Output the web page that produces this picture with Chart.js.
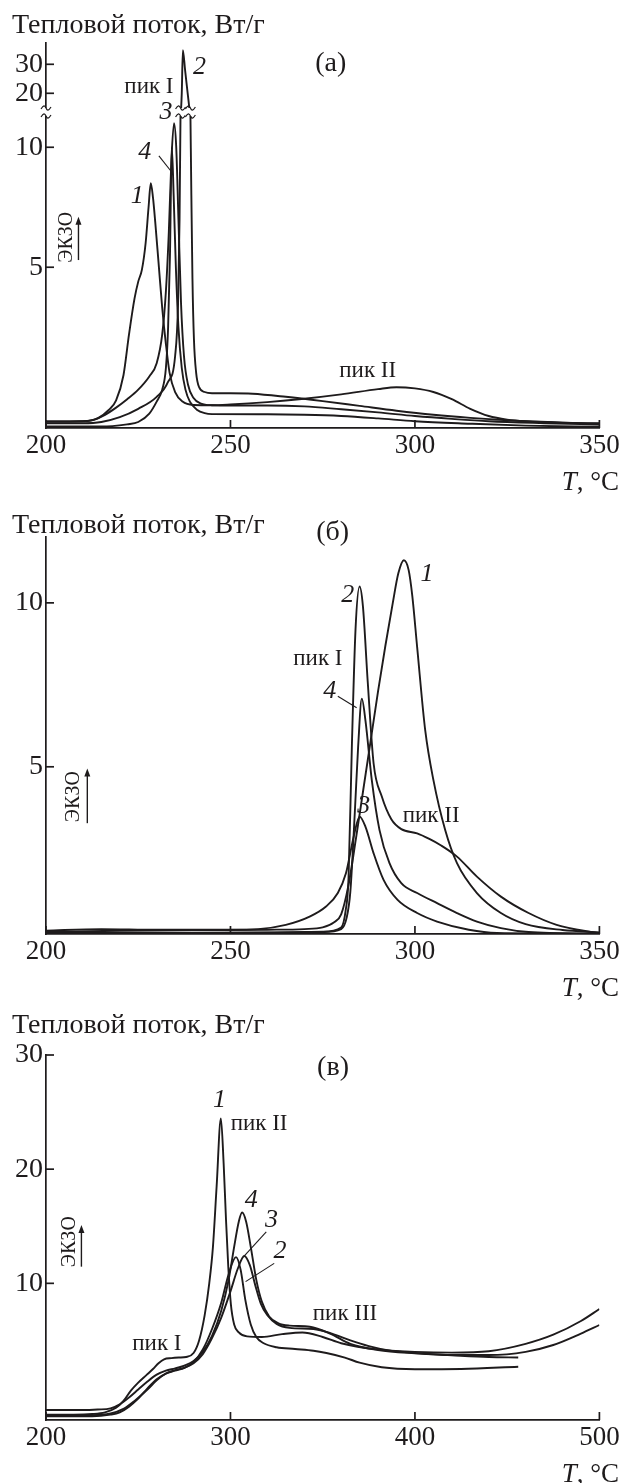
<!DOCTYPE html>
<html lang="ru">
<head>
<meta charset="utf-8">
<title>Тепловой поток</title>
<script src="https://cdn.jsdelivr.net/npm/chart.js@4/dist/chart.umd.min.js"></script>
<style>
  html, body { margin: 0; padding: 0; background: #fff; }
  body { width: 620px; height: 1483px; position: relative; overflow: hidden; }
  canvas { position: absolute; left: 0; }
  #chartA { top: 0; }
  #chartB { top: 494px; }
  #chartC { top: 1004px; }
</style>
</head>
<body>
<canvas id="chartA" width="620" height="494"></canvas>
<canvas id="chartB" width="620" height="510"></canvas>
<canvas id="chartC" width="620" height="479"></canvas>
<script>
// ---------- (а) ----------
const tA1 = [200, 210, 214, 217, 219, 221, 222.5, 224, 225, 226, 227, 227.8, 228.4, 229, 229.6, 230.5, 231.5, 232.5, 233.5, 235, 237, 240, 245, 250, 260, 270, 280, 290, 295, 300, 305, 310, 315, 320, 325, 330, 340, 350];
const qA1 = [-1.43, -1.42, -1.3, -0.95, -0.55, 0.5, 2.2, 3.7, 4.4, 4.9, 6.0, 7.5, 8.5, 7.9, 6.9, 5.2, 3.3, 1.8, 0.6, -0.2, -0.6, -0.74, -0.75, -0.72, -0.62, -0.48, -0.3, -0.08, 0.0, -0.05, -0.2, -0.5, -0.9, -1.2, -1.35, -1.42, -1.48, -1.5];
const tA2 = [200, 210, 215, 220, 225, 230, 233, 235, 235.8, 236.2, 236.5, 236.8, 237.1, 237.7, 238.4, 239.1, 239.4, 239.7, 240.1, 240.7, 241.5, 243, 245, 250, 256, 265, 275, 285, 295, 305, 315, 325, 340, 350];
const qA2 = [-1.5, -1.5, -1.45, -1.25, -0.9, -0.4, 0.2, 1.3, 3.5, 7, 12, 20, 34.9, 28, 20, 12, 8, 4.5, 2.0, 0.6, 0.0, -0.2, -0.25, -0.25, -0.27, -0.4, -0.58, -0.78, -0.98, -1.15, -1.28, -1.38, -1.48, -1.52];
const tA3 = [200, 210, 213, 216, 219, 222, 225, 228, 230, 231.5, 232.5, 233.3, 234, 234.7, 235.3, 235.9, 236.6, 237.4, 238.5, 240, 242, 245, 250, 260, 270, 280, 290, 300, 310, 320, 335, 350];
const qA3 = [-1.43, -1.42, -1.35, -1.15, -0.85, -0.5, -0.1, 0.45, 1.0, 2.2, 4.0, 6.5, 9.5, 11.0, 10.0, 7.0, 3.5, 1.3, 0.1, -0.45, -0.68, -0.75, -0.76, -0.76, -0.8, -0.92, -1.05, -1.2, -1.32, -1.42, -1.5, -1.56];
const tA4 = [200, 210, 218, 222, 225, 228, 230, 231.5, 232.5, 233.1, 233.6, 234.1, 234.6, 235.2, 235.9, 236.8, 237.8, 239, 241, 243, 245, 260, 270, 280, 290, 300, 315, 330, 350];
const qA4 = [-1.64, -1.64, -1.62, -1.55, -1.45, -1.1, -0.6, -0.1, 0.8, 2.5, 5.5, 10.0, 8.0, 5.0, 2.5, 0.8, -0.1, -0.6, -0.95, -1.08, -1.12, -1.13, -1.15, -1.2, -1.3, -1.42, -1.52, -1.6, -1.65];
const xTicksA = [200, 250, 300, 350];
const yTicksA = [5, 10];
const yTicksAUpper = [20, 30];

// ---------- (б) ----------
const tB1 = [200, 220, 240, 260, 270, 275, 278, 280, 282, 284, 286, 288, 290, 292, 294, 295.5, 297, 298.3, 299.3, 300.6, 302.8, 305, 308.2, 311.4, 316.8, 323.3, 330, 340, 350];
const qB1 = [-0.04, 0.0, 0.02, 0.03, 0.05, 0.1, 0.25, 0.5, 1.4, 2.8, 4.3, 5.8, 7.3, 8.7, 10.0, 10.9, 11.3, 11.0, 10.2, 8.65, 6.1, 4.6, 3.07, 2.06, 1.15, 0.54, 0.2, 0.02, -0.05];
const tB2 = [200, 230, 260, 275, 280, 281.2, 282, 282.9, 283.9, 285, 285.9, 287.2, 288.8, 291, 293.6, 296.3, 300.6, 303.9, 307.1, 311.4, 316.8, 323.3, 330.8, 338.4, 350];
const qB2 = [-0.07, -0.06, -0.05, -0.03, 0.1, 0.6, 1.6, 5.6, 9.2, 10.5, 9.9, 7.6, 5.1, 4.1, 3.4, 3.1, 2.97, 2.8, 2.6, 2.26, 1.65, 1.04, 0.54, 0.18, -0.09];
const tB3 = [200, 215, 230, 250, 257.5, 265, 271.6, 275.9, 279.1, 281.3, 283.4, 285, 286.6, 288.8, 291.5, 295.3, 300.6, 306, 314.6, 322.2, 350];
const qB3 = [0.0, 0.05, 0.03, 0.03, 0.05, 0.18, 0.44, 0.74, 1.15, 1.75, 2.87, 3.48, 3.17, 2.36, 1.55, 0.94, 0.54, 0.28, 0.03, -0.07, -0.09];
const tB4 = [200, 230, 260, 275, 280, 281.5, 282.5, 283.7, 284.6, 285.6, 286.6, 288.3, 290.4, 293.1, 296.3, 300.6, 306, 311.4, 316.8, 323.3, 330.8, 350];
const qB4 = [-0.08, -0.07, -0.06, -0.04, 0.05, 0.4, 1.2, 3.6, 5.6, 7.08, 6.4, 4.6, 3.07, 2.06, 1.45, 1.15, 0.84, 0.54, 0.28, 0.08, -0.04, -0.09];
const xTicksB = [200, 250, 300, 350];
const yTicksB = [5, 10];

// ---------- (в) ----------
const tC1 = [200, 215, 225, 232, 238, 242, 246, 250, 254.7, 258, 261, 264, 268, 272, 276, 280, 283, 286, 288.5, 290.5, 292.5, 294.8, 296.3, 297.6, 298.8, 300.2, 302, 304.5, 309, 317, 328, 339, 350, 360, 380, 400, 420, 440, 460, 475, 490, 500];
const qC1 = [-1.5, -1.5, -1.45, -1.3, -0.9, -0.3, 0.6, 1.3, 2.0, 2.5, 3.0, 3.35, 3.45, 3.5, 3.55, 3.9, 5.0, 7.2, 10.0, 13.2, 18.5, 24.45, 20.5, 15.5, 11.5, 8.2, 6.4, 5.7, 5.35, 5.3, 5.55, 5.7, 5.3, 4.75, 4.2, 4.0, 3.93, 4.05, 4.7, 5.5, 6.7, 7.75];
const tC2 = [200, 225, 235, 242, 248, 255, 260, 265, 270, 275, 280, 285, 290, 295, 300, 304, 307.5, 310.5, 313.5, 316.5, 320, 325, 332, 345, 355, 365, 375, 385, 400, 420, 440, 460, 475, 490, 500];
const qC2 = [-1.55, -1.55, -1.4, -1.0, -0.3, 0.7, 1.5, 2.1, 2.4, 2.6, 3.0, 3.8, 5.2, 7.0, 9.3, 11.3, 12.4, 11.6, 9.8, 8.2, 7.2, 6.45, 6.1, 6.0, 5.6, 5.0, 4.5, 4.15, 3.9, 3.72, 3.72, 4.0, 4.6, 5.6, 6.35];
const tC3 = [200, 225, 235, 240, 245, 250, 255, 260, 265, 270, 275, 280, 285, 290, 295, 299, 303, 305.5, 308, 311, 314, 318, 325, 335, 345, 352, 362, 370, 382, 400, 425, 456];
const qC3 = [-1.65, -1.65, -1.5, -1.3, -0.8, -0.1, 0.8, 1.6, 2.1, 2.35, 2.6, 3.1, 4.2, 6.0, 8.3, 10.8, 12.3, 11.2, 8.6, 6.4, 5.3, 4.75, 4.4, 4.25, 4.1, 3.9, 3.5, 3.05, 2.65, 2.48, 2.5, 2.7];
const tC4 = [200, 220, 228, 235, 240, 245, 250, 255, 260, 265, 270, 275, 280, 285, 290, 295, 299, 302, 304.5, 306.3, 308.5, 311, 314, 317, 321, 326, 332, 343, 354, 365, 380, 400, 420, 440, 456];
const qC4 = [-1.1, -1.1, -1.05, -0.95, -0.6, 0.0, 0.7, 1.4, 2.0, 2.35, 2.55, 2.8, 3.2, 4.0, 5.4, 7.6, 10.3, 13.2, 15.4, 16.2, 15.4, 13.2, 10.3, 8.4, 7.1, 6.5, 6.3, 6.2, 5.6, 4.7, 4.16, 3.87, 3.7, 3.55, 3.5];
const xTicksC = [200, 300, 400, 500];
const yTicksC = [10, 20, 30];

// ---------- общий вид ----------
const SERIF = "'Liberation Serif', 'Times New Roman', serif";
const INK = '#1e1b1c';
const AXIS_W = 46;          // место под подписи оси Y
const RIGHT_PAD = 20.6;     // от конца оси X до края
const TICK_LEN = 8;         // засечки внутрь графика

const pts = (t, q) => t.map((x, i) => ({ x, y: q[i] }));

function curve(t, q, axis) {
  return {
    data: pts(t, q),
    yAxisID: axis || 'y',
    borderColor: INK,
    borderWidth: 1.9,
    pointRadius: 0,
    fill: false,
    cubicInterpolationMode: 'monotone',
    clip: 0
  };
}

function xAxis(min, max, ticks, height) {
  return {
    type: 'linear', position: 'bottom', min, max,
    afterBuildTicks: s => { s.ticks = ticks.map(v => ({ value: v })); },
    ticks: { font: { family: SERIF, size: 27 }, color: INK, padding: 2, maxRotation: 0, autoSkip: false },
    grid: { display: false, drawTicks: false },
    border: { display: true, color: INK, width: 1.7 },
    afterFit: s => { s.height = height; s.paddingLeft = 0; s.paddingRight = 0; }
  };
}

function yAxis(min, max, ticks, extra) {
  return Object.assign({
    type: 'linear', position: 'left', min, max,
    afterBuildTicks: s => { s.ticks = ticks.map(v => ({ value: v })); },
    ticks: { font: { family: SERIF, size: 28 }, color: INK, padding: 3, autoSkip: false },
    grid: { display: false, drawTicks: false },
    border: { display: true, color: INK, width: 1.7 },
    afterFit: s => { s.width = AXIS_W; s.paddingTop = 0; s.paddingBottom = 0; }
  }, extra || {});
}

function options(padTop, scales, notes, extraPlugins) {
  return {
    responsive: false,
    animation: false,
    events: [],
    layout: { padding: { top: padTop, left: 0, right: RIGHT_PAD, bottom: 0 } },
    plugins: Object.assign({
      legend: { display: false },
      tooltip: { enabled: false },
      title: { display: false },
      notes
    }, extraPlugins || {}),
    scales
  };
}

// засечки внутрь, как на печатных графиках
const inwardTicks = {
  id: 'inwardTicks',
  afterDraw(chart) {
    const ctx = chart.ctx;
    ctx.save();
    ctx.strokeStyle = INK;
    ctx.lineWidth = 1.7;
    Object.values(chart.scales).forEach(s => {
      s.ticks.forEach(t => {
        const p = s.getPixelForValue(t.value);
        ctx.beginPath();
        if (s.isHorizontal()) {
          ctx.moveTo(p, s.top);
          ctx.lineTo(p, s.top - TICK_LEN);
        } else {
          ctx.moveTo(s.right, p);
          ctx.lineTo(s.right + TICK_LEN, p);
        }
        ctx.stroke();
      });
    });
    ctx.restore();
  }
};

// подписи кривых, пиков, ЭКЗО, заголовок оси и T, °C
const notes = {
  id: 'notes',
  afterDraw(chart, args, o) {
    const ctx = chart.ctx;
    const xs = chart.scales.x;
    const area = chart.chartArea;
    ctx.save();
    ctx.fillStyle = INK;
    ctx.strokeStyle = INK;

    (o.labels || []).forEach(l => {
      const ys = chart.scales[l.axis || 'y'];
      ctx.font = l.font;
      ctx.textAlign = 'center';
      ctx.textBaseline = 'middle';
      ctx.fillText(l.text, xs.getPixelForValue(l.x), ys.getPixelForValue(l.y));
    });

    ctx.lineWidth = 1.1;
    (o.leaders || []).forEach(l => {
      const ys = chart.scales[l.axis || 'y'];
      ctx.beginPath();
      ctx.moveTo(xs.getPixelForValue(l.x0), ys.getPixelForValue(l.y0));
      ctx.lineTo(xs.getPixelForValue(l.x1), ys.getPixelForValue(l.y1));
      ctx.stroke();
    });

    // ЭКЗО со стрелкой вверх
    if (o.exo) {
      const e = o.exo;
      const ys = chart.scales[e.axis || 'y'];
      ctx.save();
      ctx.translate(xs.getPixelForValue(e.x), ys.getPixelForValue(e.y));
      ctx.rotate(-Math.PI / 2);
      ctx.font = "20px " + SERIF;
      ctx.textAlign = 'center';
      ctx.textBaseline = 'middle';
      ctx.fillText('ЭКЗО', 0, 0);
      ctx.restore();
      const ax = xs.getPixelForValue(e.ax);
      const a0 = ys.getPixelForValue(e.from);
      const a1 = ys.getPixelForValue(e.to);
      ctx.lineWidth = 1.4;
      ctx.beginPath();
      ctx.moveTo(ax, a0);
      ctx.lineTo(ax, a1 + 6);
      ctx.stroke();
      ctx.beginPath();
      ctx.moveTo(ax, a1);
      ctx.lineTo(ax - 3, a1 + 8);
      ctx.lineTo(ax + 3, a1 + 8);
      ctx.closePath();
      ctx.fill();
    }

    // заголовок оси Y
    ctx.font = "28px " + SERIF;
    ctx.textAlign = 'left';
    ctx.textBaseline = 'alphabetic';
    ctx.fillText('Тепловой поток, Вт/г', 12, o.titleY);

    // T, °C справа под осью
    const yT = area.bottom + 62;
    ctx.font = "27px " + SERIF;
    const rest = ', °C';
    const wRest = ctx.measureText(rest).width;
    ctx.textAlign = 'right';
    ctx.fillText(rest, 619, yT);
    ctx.font = "italic 27px " + SERIF;
    ctx.fillText('T', 619 - wRest, yT);

    ctx.restore();
  }
};

// разрыв оси (а): волнистые значки на оси и на линиях кривой 2
function tilde(ctx, cx, cy, w) {
  ctx.beginPath();
  ctx.moveTo(cx - w, cy + 1);
  ctx.bezierCurveTo(cx - w / 2, cy - 3, cx - w / 4, cy - 3, cx, cy);
  ctx.bezierCurveTo(cx + w / 4, cy + 3, cx + w / 2, cy + 3, cx + w, cy - 1);
  ctx.stroke();
}

const axisBreak = {
  id: 'axisBreak',
  afterDatasetsDraw(chart, args, o) {
    const lo = chart.scales.y;
    const xs = chart.scales.x;
    const yb = lo.top;
    const marks = [lo.right];
    for (let i = 1; i < o.q.length; i++) {
      const a = o.q[i - 1], b = o.q[i];
      if ((a - lo.max) * (b - lo.max) < 0) {
        const f = (lo.max - a) / (b - a);
        marks.push(xs.getPixelForValue(o.t[i - 1] + f * (o.t[i] - o.t[i - 1])));
      }
    }
    const ctx = chart.ctx;
    ctx.save();
    marks.forEach(px => {
      ctx.fillStyle = '#fff';
      ctx.fillRect(px - 5, yb - 4, 10, 8);
      ctx.strokeStyle = INK;
      ctx.lineWidth = 1.2;
      tilde(ctx, px, yb - 4, 5);
      tilde(ctx, px, yb + 4, 5);
    });
    ctx.restore();
  }
};

const NUM = "italic 26px " + SERIF;
const PEAK = "23px " + SERIF;
const LETTER = "28px " + SERIF;

// (а): ось Y с разрывом — две шкалы в одном стеке
new Chart(document.getElementById('chartA'), {
  type: 'line',
  data: {
    datasets: [
      curve(tA1, qA1), curve(tA2, qA2), curve(tA3, qA3), curve(tA4, qA4),
      curve(tA2, qA2, 'yTop')
    ]
  },
  options: options(43.3, {
    x: xAxis(200, 350, xTicksA, 66),
    y: yAxis(-1.7, 11.47, yTicksA, { stack: 'flow', stackWeight: 316, weight: 0 }),
    yTop: yAxis(13.55, 37.24, yTicksAUpper, { stack: 'flow', stackWeight: 68.7, weight: 1 })
  }, {
    titleY: 33,
    labels: [
      { text: '(а)', x: 277.2, y: 30.1, axis: 'yTop', font: LETTER },
      { text: 'пик I', x: 227.9, y: 22.1, axis: 'yTop', font: PEAK },
      { text: '2', x: 241.6, y: 29.0, axis: 'yTop', font: NUM },
      { text: '3', x: 232.5, y: 13.4, axis: 'yTop', font: NUM },
      { text: '4', x: 226.8, y: 9.79, font: NUM },
      { text: '1', x: 224.7, y: 7.97, font: NUM },
      { text: 'пик II', x: 287.2, y: 0.69, font: PEAK }
    ],
    leaders: [
      { x0: 230.6, y0: 9.64, x1: 233.9, y1: 9.0 }
    ],
    exo: { x: 205.5, y: 6.25, ax: 208.8, from: 5.3, to: 7.1 }
  }, { axisBreak: { t: tA2, q: qA2 } }),
  plugins: [inwardTicks, notes, axisBreak]
});

// (б)
new Chart(document.getElementById('chartB'), {
  type: 'line',
  data: {
    datasets: [curve(tB1, qB1), curve(tB2, qB2), curve(tB3, qB3), curve(tB4, qB4)]
  },
  options: options(43.3, {
    x: xAxis(200, 350, xTicksB, 70),
    y: yAxis(-0.1, 12.0, yTicksB)
  }, {
    titleY: 39,
    labels: [
      { text: '(б)', x: 277.7, y: 12.15, font: LETTER },
      { text: '2', x: 281.8, y: 10.22, font: NUM },
      { text: '1', x: 303.3, y: 10.88, font: NUM },
      { text: 'пик I', x: 273.7, y: 8.30, font: PEAK },
      { text: '4', x: 276.9, y: 7.31, font: NUM },
      { text: '3', x: 286.1, y: 3.80, font: NUM },
      { text: 'пик II', x: 304.4, y: 3.50, font: PEAK }
    ],
    leaders: [
      { x0: 279.1, y0: 7.15, x1: 284.2, y1: 6.80 }
    ],
    exo: { x: 207.4, y: 4.09, ax: 211.2, from: 3.28, to: 4.95 }
  }),
  plugins: [inwardTicks, notes]
});

// (в)
new Chart(document.getElementById('chartC'), {
  type: 'line',
  data: {
    datasets: [curve(tC1, qC1), curve(tC2, qC2), curve(tC3, qC3), curve(tC4, qC4)]
  },
  options: options(51, {
    x: xAxis(200, 500, xTicksC, 63),
    y: yAxis(-1.97, 30, yTicksC)
  }, {
    titleY: 29,
    labels: [
      { text: '(в)', x: 355.6, y: 28.9, font: LETTER },
      { text: '1', x: 294, y: 26.06, font: NUM },
      { text: 'пик II', x: 315.5, y: 24.0, font: PEAK },
      { text: '4', x: 311.2, y: 17.3, font: NUM },
      { text: '3', x: 322.2, y: 15.55, font: NUM },
      { text: '2', x: 326.9, y: 12.8, font: NUM },
      { text: 'пик I', x: 260.1, y: 4.69, font: PEAK },
      { text: 'пик III', x: 362.1, y: 7.31, font: PEAK }
    ],
    leaders: [
      { x0: 319.4, y0: 14.5, x1: 306.9, y1: 12.3 },
      { x0: 323.7, y0: 11.75, x1: 308.2, y1: 10.15 }
    ],
    exo: { x: 212.7, y: 13.65, ax: 219.2, from: 11.46, to: 15.1 }
  }),
  plugins: [inwardTicks, notes]
});
</script>
</body>
</html>
